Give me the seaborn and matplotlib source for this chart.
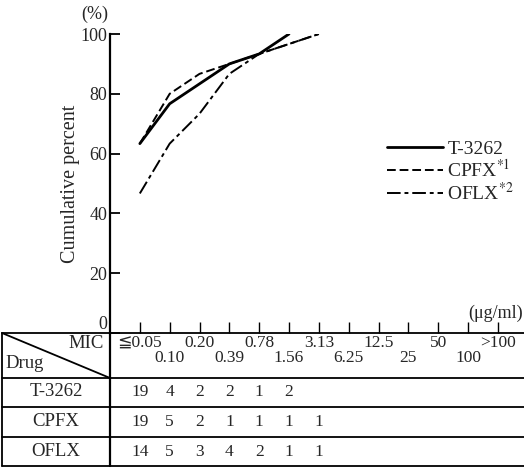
import numpy as np
import pandas as pd
import matplotlib
matplotlib.use("Agg")
import matplotlib.pyplot as plt
import matplotlib.transforms as mtransforms
import seaborn as sns

# ---- data ----
mic_labels = ["≦0.05", "0.10", "0.20", "0.39", "0.78", "1.56", "3.13",
              "6.25", "12.5", "25", "50", "100", ">100"]
drugs = ["T-3262", "CPFX", "OFLX"]
legend_labels = ["T-3262", "CPFX$^{*1}$", "OFLX$^{*2}$"]
counts_t3262 = [19, 4, 2, 2, 1, 2]
counts_cpfx = [19, 5, 2, 1, 1, 1, 1]
counts_oflx = [14, 5, 3, 4, 2, 1, 1]
yticks = [0, 20, 40, 60, 80, 100]

counts = {"T-3262": counts_t3262, "CPFX": counts_cpfx, "OFLX": counts_oflx}

rows = []
for d in drugs:
    c = np.array(counts[d])
    cum = np.cumsum(c) / c.sum() * 100
    for i, v in enumerate(cum):
        rows.append({"drug": d, "pos": i, "cum": v})
df = pd.DataFrame(rows)

sns.set_style("ticks")
plt.rcParams["font.family"] = ["Liberation Serif", "DejaVu Sans", "Noto Sans CJK JP"]
plt.rcParams["mathtext.fontset"] = "stix"

W, H = 524, 468
fig = plt.figure(figsize=(W / 100, H / 100), dpi=100)

# overlay axes in pixel coordinates for table
ov = fig.add_axes([0, 0, 1, 1], zorder=0)
ov.set_xlim(0, W)
ov.set_ylim(H, 0)
ov.axis("off")

ax_left, ax_top, ax_bot = 110, 34, 333
ax = fig.add_axes([ax_left / W, 1 - ax_bot / H, (W - ax_left) / W, (ax_bot - ax_top) / H], zorder=1)
ax.patch.set_alpha(0)

sns.lineplot(data=df, x="pos", y="cum", hue="drug", style="drug",
             hue_order=drugs, style_order=drugs,
             palette={d: "black" for d in drugs},
             dashes={"T-3262": "", "CPFX": (4.5, 2), "OFLX": (7, 2, 2, 2)},
             legend=False, ax=ax)
lws = [2.0, 1.4, 1.4]
for ln, lw in zip(ax.lines, lws):
    ln.set_linewidth(lw)

step = (497 - 139) / 12
ax.set_xlim(-1, -1 + (W - ax_left) / step)
ax.set_ylim(0, 100)
ax.set_xticks(range(len(mic_labels)))
ax.set_yticks(yticks)
ax.set_yticklabels([str(v) for v in yticks], fontsize=13)
ax.tick_params(axis="x", direction="in", length=8, width=1.0, labelbottom=False, color="black")
ax.tick_params(axis="y", direction="in", length=7, width=1.3, pad=2, color="black")
for s in ["top", "right", "bottom"]:
    ax.spines[s].set_visible(False)
ax.spines["left"].set_linewidth(1.6)
ax.spines["left"].set_color("black")
ax.set_xlabel("")
ax.set_ylabel("Cumulative percent", fontsize=14.5, labelpad=0.5)
ax.get_yticklabels()[0].set_verticalalignment("bottom")

ax.legend(ax.lines, legend_labels, loc="center left", frameon=False,
          bbox_to_anchor=((387 - ax_left) / (W - ax_left), 1 - (172 - ax_top) / (ax_bot - ax_top)),
          fontsize=14, handlelength=2.9, handletextpad=0.2, labelspacing=0.05,
          borderpad=0, borderaxespad=0)

ov.text(95, 14, "(%)", ha="center", va="center", fontsize=13)
ov.text(523, 313, "(μg/ml)", ha="right", va="center", fontsize=13)

# table lines
lk = dict(color="black", lw=1.3)
for y in [333, 378, 407, 437, 466]:
    ov.plot([2, W], [y, y], **lk)
ov.plot([ax_left, ax_left], [333, 466], color="black", lw=1.6)
ov.plot([2, 2], [333, 466], **lk)
ov.plot([2, ax_left], [333, 378], **lk)
ov.text(104, 344, "MIC", ha="right", va="center", fontsize=13.5)
ov.text(5, 364, "Drug", ha="left", va="center", fontsize=13.5)

tr = mtransforms.blended_transform_factory(ax.transData, ov.transData)
for i, lab in enumerate(mic_labels):
    y = 343 if i % 2 == 0 else 358
    ov.text(i, y, lab, transform=tr, ha="center", va="center", fontsize=12.5)

row_y = [392, 422, 452]
for d, y in zip(drugs, row_y):
    ov.text(56, y, d, ha="center", va="center", fontsize=13.5)
    for i, c in enumerate(counts[d]):
        ov.text(i, y, str(c), transform=tr, ha="center", va="center", fontsize=12.5)

fig.savefig("out.png", dpi=100)
